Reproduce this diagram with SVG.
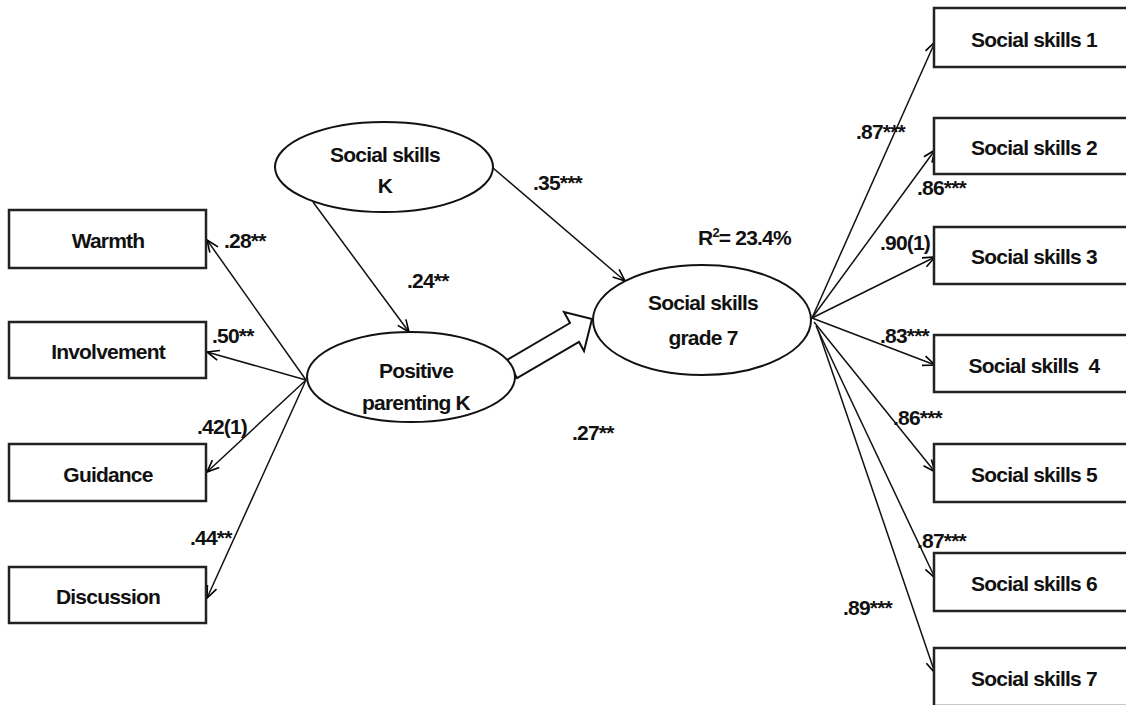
<svg xmlns="http://www.w3.org/2000/svg" width="1126" height="705" viewBox="0 0 1126 705">
<defs>
<marker id="ah" markerWidth="14" markerHeight="12" refX="13" refY="6" orient="auto" markerUnits="userSpaceOnUse">
<path d="M1,1 L13,6 L1,11" fill="none" stroke="#000" stroke-width="1.6"/>
</marker>
<style>
.box{fill:#fff;stroke:#222;stroke-width:2.5}
.ell{fill:#fff;stroke:#111;stroke-width:2}
.t{font-family:"Liberation Sans",Arial,sans-serif;font-weight:bold;font-size:21px;letter-spacing:-0.8px;fill:#111}
.c{text-anchor:middle}
.ln{stroke:#111;stroke-width:1.5;fill:none;marker-end:url(#ah)}
</style>
</defs>
<rect width="1126" height="705" fill="#fff"/>

<g id="connectors">
<line class="ln" x1="306" y1="380" x2="207" y2="240"/>
<line class="ln" x1="306" y1="380" x2="207" y2="352"/>
<line class="ln" x1="306" y1="380" x2="207" y2="472"/>
<line class="ln" x1="306" y1="380" x2="207" y2="598"/>
<line class="ln" x1="313" y1="202" x2="409" y2="332"/>
<line class="ln" x1="493" y1="168" x2="625" y2="281"/>
<polygon points="507,360 570,323 564,312 592,319 584,351 579,342 517,378" fill="#fff" stroke="#111" stroke-width="2"/>
<line class="ln" x1="812" y1="318" x2="935" y2="42"/>
<line class="ln" x1="812" y1="318" x2="935" y2="150"/>
<line class="ln" x1="812" y1="318" x2="935" y2="257"/>
<line class="ln" x1="812" y1="318" x2="935" y2="365"/>
<line class="ln" x1="814" y1="322" x2="935" y2="472"/>
<line class="ln" x1="816" y1="326" x2="935" y2="578"/>
<line class="ln" x1="818" y1="330" x2="935" y2="673"/>
</g>

<g id="warmth"><rect class="box" x="9" y="210" width="197" height="58"/><text class="t c" x="108" y="248">Warmth</text></g>
<g id="involvement"><rect class="box" x="9" y="322" width="197" height="56"/><text class="t c" x="108" y="359">Involvement</text></g>
<g id="guidance"><rect class="box" x="9" y="444" width="197" height="57"/><text class="t c" x="108" y="482">Guidance</text></g>
<g id="discussion"><rect class="box" x="9" y="567" width="197" height="56"/><text class="t c" x="108" y="604">Discussion</text></g>

<g id="socialK"><ellipse class="ell" cx="384" cy="167" rx="109" ry="45"/><text class="t c" x="385" y="162">Social skills</text><text class="t c" x="385" y="193">K</text></g>
<g id="parenting"><ellipse class="ell" cx="411" cy="377" rx="104" ry="45"/><text class="t c" x="416" y="378">Positive</text><text class="t c" x="416" y="410">parenting K</text></g>
<g id="grade7"><ellipse class="ell" cx="702" cy="320" rx="109" ry="55"/><text class="t c" x="703" y="310">Social skills</text><text class="t c" x="703" y="345">grade 7</text></g>

<g id="ss1"><rect class="box" x="934" y="8" width="200" height="59"/><text class="t c" x="1034" y="47">Social skills 1</text></g>
<g id="ss2"><rect class="box" x="934" y="118" width="200" height="56"/><text class="t c" x="1034" y="155">Social skills 2</text></g>
<g id="ss3"><rect class="box" x="934" y="227" width="200" height="57"/><text class="t c" x="1034" y="264">Social skills 3</text></g>
<g id="ss4"><rect class="box" x="934" y="335" width="200" height="57"/><text class="t c" x="1034" y="373" xml:space="preserve">Social skills  4</text></g>
<g id="ss5"><rect class="box" x="934" y="444" width="200" height="58"/><text class="t c" x="1034" y="482">Social skills 5</text></g>
<g id="ss6"><rect class="box" x="934" y="553" width="200" height="58"/><text class="t c" x="1034" y="591">Social skills 6</text></g>
<g id="ss7"><rect class="box" x="934" y="648" width="200" height="58"/><text class="t c" x="1034" y="686">Social skills 7</text></g>

<g id="labels">
<text class="t" x="224" y="248">.28**</text>
<text class="t" x="212" y="343">.50**</text>
<text class="t" x="197" y="434">.42(1)</text>
<text class="t" x="190" y="545">.44**</text>
<text class="t" x="407" y="288">.24**</text>
<text class="t" x="533" y="190">.35***</text>
<text class="t" x="572" y="440">.27**</text>
<text class="t" x="698" y="245">R<tspan dy="-8" font-size="13">2</tspan><tspan dy="8">= 23.4%</tspan></text>
<text class="t" x="856" y="139">.87***</text>
<text class="t" x="917" y="195">.86***</text>
<text class="t" x="880" y="250">.90(1)</text>
<text class="t" x="880" y="343">.83***</text>
<text class="t" x="893" y="425">.86***</text>
<text class="t" x="917" y="548">.87***</text>
<text class="t" x="843" y="615">.89***</text>
</g>
</svg>
